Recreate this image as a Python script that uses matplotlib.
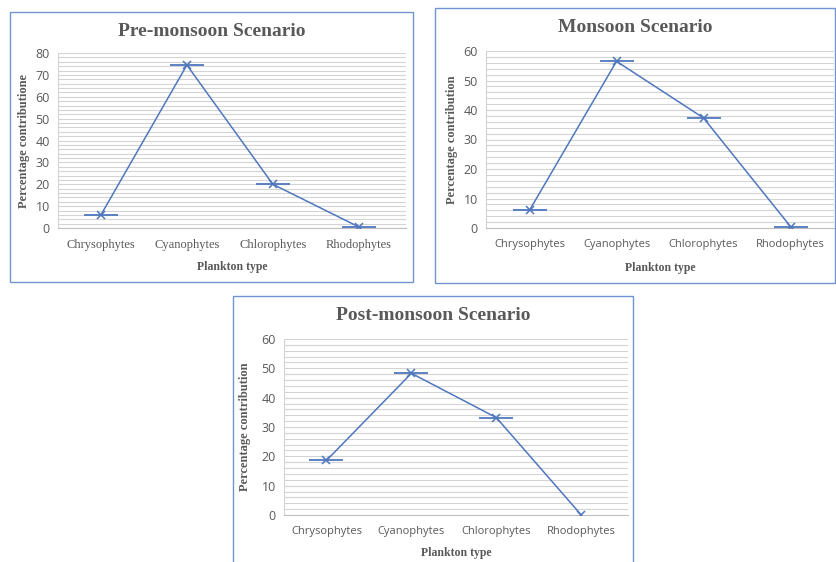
import matplotlib.pyplot as plt
from matplotlib.patches import Rectangle
import numpy as np

categories = ["Chrysophytes", "Cyanophytes", "Chlorophytes", "Rhodophytes"]
pre_monsoon = [6.0, 74.5, 20.0, 0.5]
monsoon = [6.0, 56.5, 37.3, 0.5]
post_monsoon = [18.6, 48.3, 33.2, 0.0]

W, H = 836, 562
fig = plt.figure(figsize=(W / 100, H / 100), dpi=100)

LINE = "#4f77be"
BORDER = "#6f94d2"
GRID = "#d4d4d4"
TXT = "#595959"
SERIF = "Liberation Serif"
SANS = "Open Sans"


def px_axes(x0, y0, x1, y1):
    # pixel box (top-left origin) -> figure axes
    return fig.add_axes([x0 / W, 1 - y1 / H, (x1 - x0) / W, (y1 - y0) / H])


def panel(box, plot, values, title, ylabel, ymax, tick_font, tick_size, bars, title_y, xlab_y, ylab_x,
          xright=3.55):
    bx0, by0, bx1, by1 = box
    fig.patches.append(Rectangle((bx0 / W, 1 - by1 / H), (bx1 - bx0) / W, (by1 - by0) / H,
                                 transform=fig.transFigure, fill=False,
                                 edgecolor=BORDER, linewidth=1.0))
    ax = px_axes(*plot)
    x = np.arange(len(categories))
    ax.plot(x, values, color=LINE, lw=1.1, zorder=3)
    ax.plot(x, values, ls="none", marker="x", ms=6, mew=1.1, color=LINE, zorder=4)
    ax.plot(x[bars], np.array(values)[bars], ls="none", marker="_", ms=24, mew=1.3,
            color=LINE, zorder=4)
    ax.set_xlim(-0.5, xright)
    ax.set_ylim(0, ymax)
    ax.set_yticks(np.arange(0, ymax + 1, 10))
    ax.set_yticks(np.arange(0, ymax + 1, 2), minor=True)
    ax.grid(True, axis="y", which="both", color=GRID, lw=0.8)
    ax.set_axisbelow(True)
    ax.set_xticks(x)
    ax.set_xticklabels(categories, fontfamily=tick_font, fontsize=tick_size, color=TXT)
    ax.tick_params(axis="y", labelsize=9, labelcolor=TXT, length=0, pad=6)
    ax.tick_params(axis="y", which="minor", length=0)
    ax.tick_params(axis="x", length=0, pad=8)
    for lab in ax.get_yticklabels():
        lab.set_fontfamily(SANS)
    for s in ["top", "right"]:
        ax.spines[s].set_visible(False)
    ax.spines["bottom"].set_color("#bfbfbf")
    ax.spines["left"].set_color(GRID)
    cx = (bx0 + bx1) / 2
    fig.text(cx / W, 1 - title_y / H, title, ha="center", va="center",
             fontfamily=SERIF, fontweight="bold", fontsize=14, color=TXT)
    px0, py0, px1, py1 = plot
    fig.text(((px0 + px1) / 2) / W, 1 - xlab_y / H, "Plankton type", ha="center", va="center",
             fontfamily=SERIF, fontweight="bold", fontsize=8.5, color=TXT)
    fig.text(ylab_x / W, 1 - ((py0 + py1) / 2) / H, ylabel, ha="center", va="center",
             rotation=90, fontfamily=SERIF, fontweight="bold", fontsize=9, color=TXT)
    return ax


panel((10, 12, 413, 282), (58, 53, 406, 228), pre_monsoon, "Pre-monsoon Scenario",
      "Percentage contributione", 80, SERIF, 9, [0, 1, 2, 3], 31, 267, 24)
panel((435, 8, 835, 283), (486, 51, 834, 228), monsoon, "Monsoon Scenario",
      "Percentage contribution", 60, SANS, 8, [0, 1, 2, 3], 27, 268, 452, xright=3.5)
panel((233, 296, 633, 565), (284, 339, 628, 515), post_monsoon, "Post-monsoon Scenario",
      "Percentage contribution", 60, SANS, 8, [0, 1, 2], 316, 553, 245)

fig.savefig("out.png", dpi=100)
